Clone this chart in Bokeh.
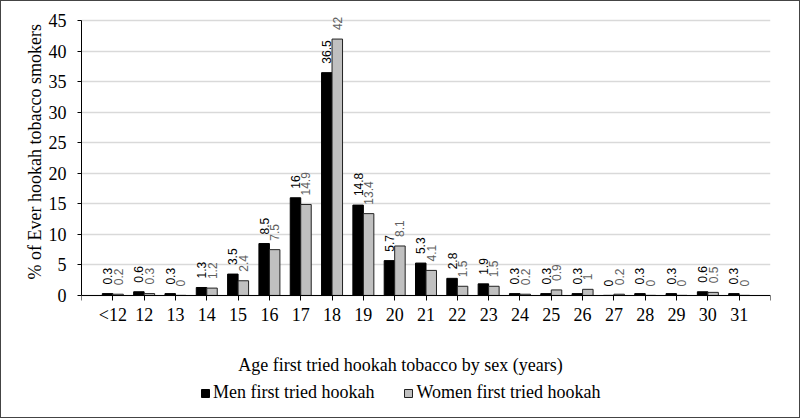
import math
from bokeh.plotting import figure
from bokeh.models import ColumnDataSource, FixedTicker, Legend, LegendItem, Label, Title
from bokeh.core.properties import value
from bokeh.embed import file_html
from bokeh.resources import INLINE

categories = ["<12", "12", "13", "14", "15", "16", "17", "18", "19", "20", "21",
              "22", "23", "24", "25", "26", "27", "28", "29", "30", "31"]
men = [0.3, 0.6, 0.3, 1.3, 3.5, 8.5, 16, 36.5, 14.8, 5.7, 5.3, 2.8, 1.9, 0.3, 0.3,
       0.3, 0, 0.3, 0.3, 0.6, 0.3]
women = [0.2, 0.3, 0, 1.2, 2.4, 7.5, 14.9, 42, 13.4, 8.1, 4.1, 1.5, 1.5, 0.2, 0.9,
         1, 0.2, 0, 0, 0.5, 0]
y_ticks = [0, 5, 10, 15, 20, 25, 30, 35, 40, 45]

n = len(categories)
pos = list(range(1, n + 1))
bw = 0.335

src = ColumnDataSource(dict(
    xm=[p - bw / 2 for p in pos],
    xw=[p + bw / 2 for p in pos],
    men=men, women=women,
    men_lbl=[f"{v:g}" for v in men],
    women_lbl=[f"{v:g}" for v in women],
))

SERIF = "Liberation Serif"
SANS = "Liberation Sans"
FS = "18px"

p = figure(frame_width=689, frame_height=412, output_backend="svg", toolbar_location=None,
           x_range=(0, n + 1), y_range=(-20, 47.5),
           min_border_left=80, min_border_right=29, min_border_top=4,
           min_border_bottom=0)
p.outline_line_color = None
p.background_fill_color = "white"
p.border_fill_color = "white"

rm = p.vbar(x="xm", top="men", width=bw, source=src, fill_color="black",
            line_color="black", line_width=1)
rw = p.vbar(x="xw", top="women", width=bw, source=src, fill_color="#c0c0c0",
            line_color="#222222", line_width=1)

p.text(x="xm", y="men", text="men_lbl", source=src, angle=math.pi / 2,
       text_align="left", text_baseline="middle", y_offset=-9,
       text_font=value(SANS), text_font_size="12px", text_color="black")
p.text(x="xw", y="women", text="women_lbl", source=src, angle=math.pi / 2,
       text_align="left", text_baseline="middle", y_offset=-9,
       text_font=value(SANS), text_font_size="12px", text_color="#606060")

# x axis (kept in the "below" panel, drawn at y = 0)
p.xaxis.fixed_location = 0
p.xaxis.ticker = FixedTicker(ticks=list(range(0, n + 2)))
overrides = {0: "", n + 1: ""}
for i, c in enumerate(categories):
    overrides[i + 1] = c
p.xaxis.major_label_overrides = overrides
p.xaxis.minor_tick_line_color = None
p.xaxis.major_tick_in = 0
p.xaxis.major_tick_out = 5
p.xaxis.axis_line_color = "black"
p.xaxis.major_tick_line_color = "black"
p.xaxis.major_label_text_font = SERIF
p.xaxis.major_label_text_font_size = FS
p.xaxis.major_label_text_color = "black"
p.xaxis.major_label_standoff = 5

# y axis
p.yaxis.ticker = FixedTicker(ticks=y_ticks)
p.yaxis.bounds = (0, 45)
p.yaxis.minor_tick_line_color = None
p.yaxis.major_tick_in = 0
p.yaxis.major_tick_out = 4
p.yaxis.axis_line_color = "black"
p.yaxis.major_tick_line_color = "black"
p.yaxis.major_label_text_font = SERIF
p.yaxis.major_label_text_font_size = FS
p.yaxis.major_label_text_color = "black"
p.yaxis.major_label_standoff = 11

ytitle = Title(text="% of Ever hookah tobacco smokers", align="left", offset=138,
               vertical_align="bottom", standoff=2,
               text_font=SERIF, text_font_size=FS, text_font_style="normal",
               text_color="black")
p.add_layout(ytitle, "left")

p.xgrid.grid_line_color = None
p.ygrid.grid_line_color = "#d9d9d9"
p.ygrid.grid_line_width = 1.5
p.ygrid.ticker = FixedTicker(ticks=y_ticks)

xtitle = Label(x=319, y=53, x_units="screen", y_units="screen",
               text="Age first tried hookah tobacco by sex (years)",
               text_align="center", text_baseline="middle",
               text_font=SERIF, text_font_size=FS, text_color="black")
p.add_layout(xtitle)

legend = Legend(items=[LegendItem(label="Men first tried hookah", renderers=[rm]),
                       LegendItem(label="Women first tried hookah", renderers=[rw])],
                orientation="horizontal", location=(119, 14),
                glyph_width=10, glyph_height=10, label_standoff=3, spacing=29,
                label_text_font=SERIF, label_text_font_size=FS,
                label_text_color="black", border_line_color=None,
                background_fill_alpha=0, padding=3, margin=0)
p.add_layout(legend, "center")

p.styles = {"border": "1px solid #444444", "box-sizing": "border-box"}

open("out.html", "w").write(file_html(p, INLINE))
